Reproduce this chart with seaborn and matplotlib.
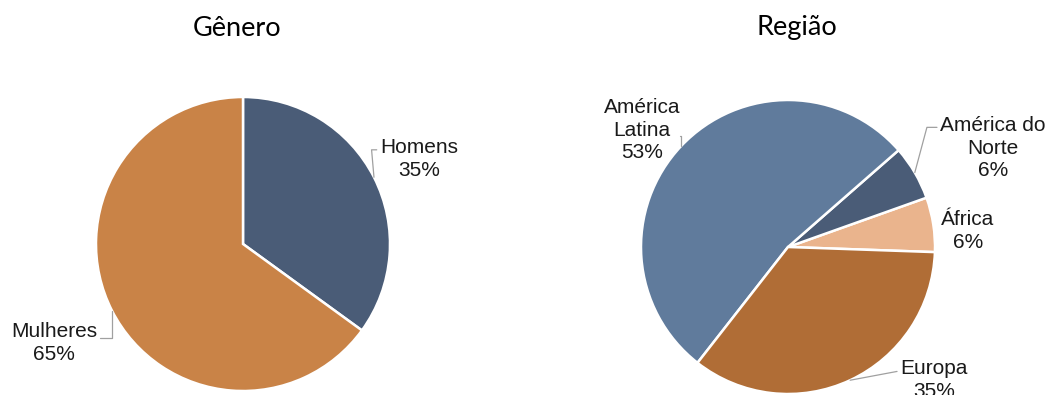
import numpy as np
import seaborn as sns
import matplotlib
matplotlib.use("Agg")
from matplotlib import pyplot as plt

# data
genero_labels = ["Homens", "Mulheres"]
genero_values = [35, 65]
regiao_labels = ["África", "América do\nNorte", "América\nLatina", "Europa"]
regiao_values = [6, 6, 53, 35]

genero_colors = ["#4a5c77", "#c98347"]
regiao_colors = ["#eab48d", "#4a5c77", "#607b9c", "#b06d36"]

sns.set_theme(style="white")
plt.rcParams["font.family"] = ["Liberation Sans", "DejaVu Sans"]

W, H = 1047, 395
R = 147.0  # pie radius in pixels

fig = plt.figure(figsize=(W / 100, H / 100), dpi=100)


def draw_pie(x0, x1, cx, cy, labels, values, colors, start, counterclock, layout):
    ax = fig.add_axes([x0 / W, 0, (x1 - x0) / W, 1])
    wedges, _ = ax.pie(values, colors=colors, startangle=start,
                       counterclock=counterclock, radius=1,
                       wedgeprops=dict(edgecolor="white", linewidth=1.8))
    ax.set_aspect("auto")
    ax.set_xlim((x0 - cx) / R, (x1 - cx) / R)
    ax.set_ylim((cy - H) / R, cy / R)
    ax.axis("off")
    for w, lab, v, (px, py, rel, conn) in zip(wedges, labels, values, layout):
        ang = np.deg2rad((w.theta1 + w.theta2) / 2)
        xy = (np.cos(ang), np.sin(ang))
        arrow = None
        if conn is not None:
            arrow = dict(arrowstyle="-", color="#a0a0a0", lw=0.9,
                         connectionstyle=conn, relpos=rel,
                         shrinkA=0, shrinkB=0)
        ax.annotate(f"{lab}\n{v}%", xy=xy,
                    xytext=((px - cx) / R, (cy - py) / R),
                    ha="center", va="center", fontsize=15,
                    linespacing=1.25, color="#1a1a1a",
                    arrowprops=arrow, annotation_clip=False)
    return ax


# label layout: text center in pixels, arrow start on text box, connector
genero_layout = [
    (419, 159, (0, 0.72), "angle,angleA=0,angleB=95,rad=0"),
    (54, 343, (1, 0.62), "angle,angleA=0,angleB=90,rad=0"),
]
regiao_layout = [
    (968, 231, (0, 0.5), None),
    (993, 148, (0, 0.82), "angle,angleA=0,angleB=75,rad=0"),
    (642, 130, (1, 0.4), "angle,angleA=0,angleB=90,rad=0"),
    (934, 380, (0, 0.72), "arc3,rad=0"),
]

draw_pie(0, 523, 243, 244, genero_labels, genero_values, genero_colors,
         90, False, genero_layout)
draw_pie(523, W, 788, 247, regiao_labels, regiao_values, regiao_colors,
         -2, True, regiao_layout)

fig.text(237 / W, 1 - 29 / H, "Gênero", ha="center", va="center",
         fontsize=19.5, family=["Lato", "DejaVu Sans"], color="black")
fig.text(797 / W, 1 - 28 / H, "Região", ha="center", va="center",
         fontsize=19.5, family=["Lato", "DejaVu Sans"], color="black")

fig.savefig("out.png", dpi=100, facecolor="white")
